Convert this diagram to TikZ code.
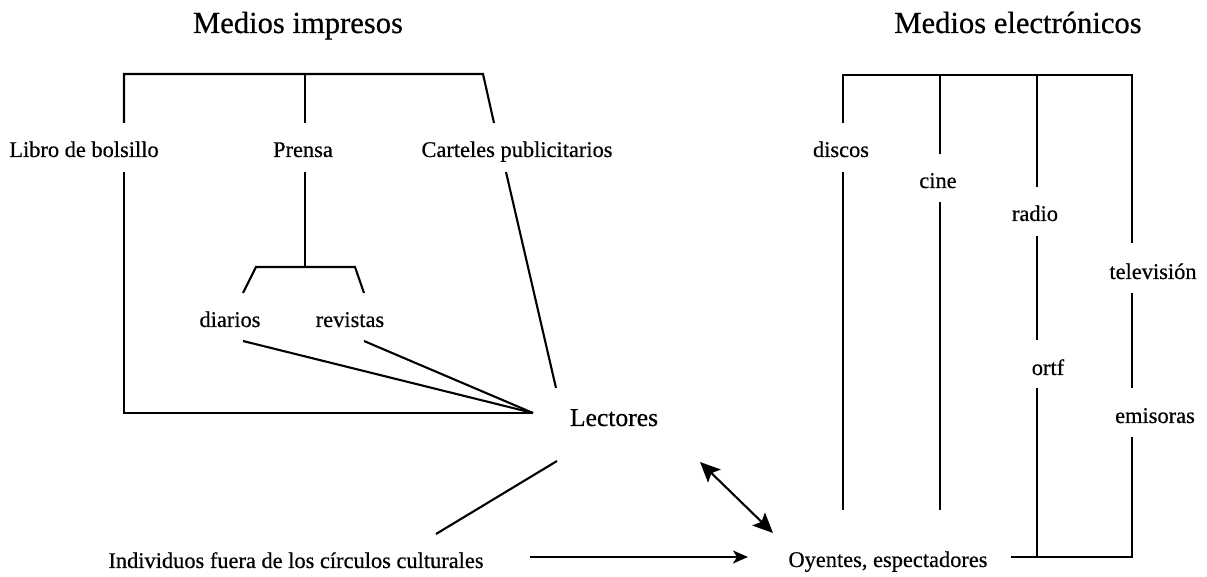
\documentclass[tikz,border=0pt]{standalone}
\usepackage{fontspec}
\setmainfont{Liberation Serif}[FakeBold=0.5]
\usetikzlibrary{arrows.meta}
\begin{document}
\begin{tikzpicture}[x=0.5pt,y=-0.5pt,
  lbl/.style={font=\fontsize{11.2}{13}\selectfont, inner sep=0pt, anchor=base},
  big/.style={font=\fontsize{12.8}{15}\selectfont, inner sep=0pt, anchor=base},
  ttl/.style={font=\fontsize{15.3}{18}\selectfont, inner sep=0pt, anchor=base},
  ln/.style={line width=1.05pt},
  arr/.style={ln, -{Stealth[length=7.5pt,width=6.5pt,inset=2pt]}},
  dbl/.style={ln, {Stealth[length=10pt,width=9pt,inset=2pt]}-{Stealth[length=10pt,width=9pt,inset=2pt]}}]
\useasboundingbox (0,0) rectangle (1207,577);

% titles
\node[ttl] (impresos) at (298,33) {Medios impresos};
\node[ttl] (electronicos) at (1018,33) {Medios electrónicos};

% print media labels
\node[lbl] (libro) at (84,157) {Libro de bolsillo};
\node[lbl] (prensa) at (303,157) {Prensa};
\node[lbl] (carteles) at (517,157) {Carteles publicitarios};
\node[lbl] (diarios) at (230,327) {diarios};
\node[lbl] (revistas) at (350,327) {revistas};
\node[big] (lectores) at (614,426) {Lectores};
\node[lbl] (individuos) at (296,568) {Individuos fuera de los círculos culturales};
\node[lbl] (oyentes) at (888,567) {Oyentes, espectadores};

% electronic media labels
\node[lbl] (discos) at (841,157) {discos};
\node[lbl] (cine) at (938,188) {cine};
\node[lbl] (radio) at (1035,221) {radio};
\node[lbl] (ortf) at (1048,375) {ortf};
\node[lbl] (tele) at (1153,279) {televisión};
\node[lbl] (emisoras) at (1155,423) {emisoras};

% print media bracket
\coordinate (pL) at (124,74);
\coordinate (pM) at (305,74);
\coordinate (pR) at (483,74);
\coordinate (libroUp) at (124,123);
\coordinate (prensaUp) at (305,123);
\coordinate (cartelesUp) at (494,123);
\draw[ln] (libroUp) -- (pL) -- (pR) -- (cartelesUp);
\draw[ln] (pM) -- (prensaUp);

\coordinate (libroDn) at (124,172);
\coordinate (corner) at (124,413);
\coordinate (hub) at (533,413);
\draw[ln] (libroDn) -- (corner) -- (hub);

% press sub-bracket
\coordinate (prensaDn) at (305,172);
\coordinate (subM) at (305,267);
\coordinate (subL) at (256,267);
\coordinate (subR) at (355,267);
\coordinate (diariosUp) at (243,293);
\coordinate (revistasUp) at (364,293);
\draw[ln] (prensaDn) -- (subM);
\draw[ln] (diariosUp) -- (subL) -- (subR) -- (revistasUp);

\coordinate (diariosDn) at (243,341);
\coordinate (revistasDn) at (364,341);
\draw[ln] (diariosDn) -- (hub);
\draw[ln] (revistasDn) -- (hub);

\coordinate (cartelesDn) at (506,172);
\coordinate (lectoresUp) at (556,388);
\draw[ln] (cartelesDn) -- (lectoresUp);

\coordinate (lectoresDn) at (557,461);
\coordinate (individuosUp) at (436,534);
\draw[ln] (lectoresDn) -- (individuosUp);

% arrows
\coordinate (individuosR) at (530,557);
\coordinate (oyentesL) at (748,557);
\draw[arr] (individuosR) -- (oyentesL);
\coordinate (lectoresSE) at (700,462);
\coordinate (oyentesNW) at (773,533);
\draw[dbl] (lectoresSE) -- (oyentesNW);

% electronic media bracket
\coordinate (eDiscos) at (843,75);
\coordinate (eCine) at (940,75);
\coordinate (eRadio) at (1037,75);
\coordinate (eTele) at (1132,75);
\draw[ln] (843,123) coordinate (discosUp) -- (eDiscos) -- (eTele) -- (1132,243) coordinate (teleUp);
\draw[ln] (eCine) -- (940,154) coordinate (cineUp);
\draw[ln] (eRadio) -- (1037,187) coordinate (radioUp);

\draw[ln] (843,172) coordinate (discosDn) -- (843,510) coordinate (discosEnd);
\draw[ln] (940,202) coordinate (cineDn) -- (940,510) coordinate (cineEnd);
\draw[ln] (1037,236) coordinate (radioDn) -- (1037,340) coordinate (ortfUp);
\draw[ln] (1132,293) coordinate (teleDn) -- (1132,388) coordinate (emisorasUp);

\coordinate (oyentesR) at (1011,557);
\coordinate (baseRadio) at (1037,557);
\coordinate (baseTele) at (1132,557);
\draw[ln] (1037,388) coordinate (ortfDn) -- (baseRadio);
\draw[ln] (1132,437) coordinate (emisorasDn) -- (baseTele) -- (oyentesR);
\end{tikzpicture}
\end{document}
